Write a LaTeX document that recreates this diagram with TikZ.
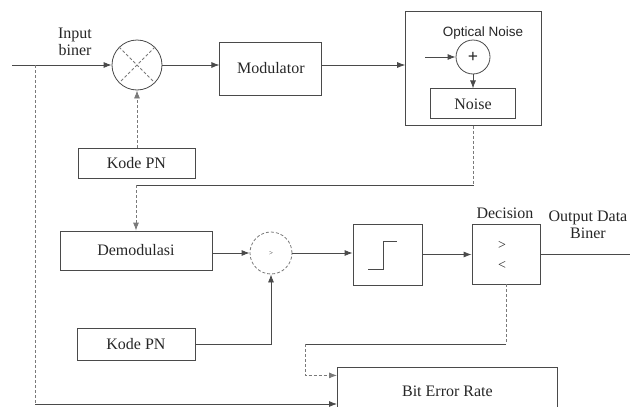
\documentclass[tikz,border=0pt]{standalone}
\usepackage{fontspec}
\setmainfont{Liberation Serif}
\setsansfont{Liberation Sans}
\usepackage{tikz}
\usetikzlibrary{positioning,arrows.meta,calc}
\definecolor{ScanGray}{HTML}{4A4A4A}
\definecolor{ScanLight}{HTML}{7A7A7A}
\definecolor{ScanText}{HTML}{262626}

\begin{document}
\begin{tikzpicture}[
  x=1pt,y=-1pt,
  every node/.style={font=\fontsize{16}{17}\selectfont,align=center,text=ScanText},
  block/.style={draw=ScanGray,line width=0.8pt,inner sep=0pt},
  mixer/.style={circle,draw=ScanGray,line width=0.8pt,inner sep=0pt},
  arr/.style={-{Latex[length=8pt,width=6pt]},line width=0.8pt,draw=ScanGray},
  link/.style={line width=0.8pt,draw=ScanGray},
  dotline/.style={densely dashed,draw=ScanLight}
]
  \useasboundingbox (0,0) rectangle (630,407);

  % transmitter
  \node[mixer,minimum size=50pt] (mult) at (137,65) {};
  \node (inlabel) at (75,42) {Input\\biner};
  \node[block,minimum width=102pt,minimum height=53pt,right=57pt of mult,yshift=-3.5pt] (mod) {Modulator};
  \node[block,minimum width=136pt,minimum height=114pt,right=83pt of mod] (chan) {};
  \node[font=\sffamily\fontsize{13.5}{15}\selectfont] (onlabel) at (483,33) {Optical Noise};
  \node[mixer,minimum size=34pt] (adder) at (473,57) {\fontsize{18}{18}\selectfont\textbf{+}};
  \node[block,minimum width=85pt,minimum height=30pt,below=14pt of adder] (noise) {Noise};
  \node[block,minimum width=117pt,minimum height=30pt] (pn1) at (136.5,163) {Kode PN};
  \coordinate (src) at (12,65);
  \coordinate (tap) at (35,65);
  \coordinate (nin) at (425,57);

  % receiver
  \node[block,minimum width=152pt,minimum height=39pt] (demod) at (136,250.5) {Demodulasi};
  \node[mixer,minimum size=42pt,dotline] (sum) at (271,253) {\fontsize{7}{7}\selectfont >};
  \node[block,minimum width=118pt,minimum height=32pt] (pn2) at (136,344) {Kode PN};
  \node[block,minimum width=69pt,minimum height=61pt] (step) at (387.5,254.5) {};
  \node[block,minimum width=68pt,minimum height=60pt] (dec) at (506,254) {};
  \node (declabel) at (505,213) {Decision};
  \node[font=\fontsize{14}{14}\selectfont] (gt) at (502,245) {>};
  \node[font=\fontsize{14}{14}\selectfont] (lt) at (502,265) {<};
  \node (outlabel) at (588,225) {Output Data\\Biner};
  \node[block,minimum width=220pt,minimum height=48pt,anchor=north west] (ber) at (337,367) {Bit Error Rate};
  \coordinate (out) at (630,254);
  \coordinate (bl) at (35,404);
  \coordinate (fb) at (305,344);

  \draw[link,dotline] (mult.45) -- (mult.225) (mult.135) -- (mult.315);
  \draw[link] ($(step)+(-19.5,14.5)$) -- ++(15,0) -- ++(0,-28) -- ++(14,0);

  \draw[arr] (src) -- (mult.west);
  \draw[link,dotline] (tap) -- (bl);
  \draw[arr] (bl) -- (bl -| ber.west);
  \draw[arr] (mult.east) -- (mult.east -| mod.west);
  \draw[arr] (mod.east |- mult) -- (mult -| chan.west);
  \draw[arr] (nin) -- (adder.west);
  \draw[arr] (adder.south) -- (noise.north);
  \draw[arr,dotline] (pn1.north -| mult) -- (mult.south);
  \draw[link,dotline] (chan.south) -- ++(0,59.5) coordinate (k1);
  \draw[link] (k1) -- (k1 -| demod.north) coordinate (k2);
  \draw[arr,dotline] (k2) -- (demod.north);
  \draw[arr] (demod.east |- sum) -- (sum.west);
  \draw[arr] (pn2.east) -| (sum.south);
  \draw[arr] (sum.east) -- (sum.east -| step.west);
  \draw[arr] (step.east) -- (step.east -| dec.west);
  \draw[link] (dec.east) -- (out);
  \draw[link,dotline] (dec.south) -- (dec.south |- fb) coordinate (k3);
  \draw[link] (k3) -- (fb);
  \draw[arr,dotline] (fb) |- ([yshift=16pt]ber.west);
\end{tikzpicture}
\end{document}
